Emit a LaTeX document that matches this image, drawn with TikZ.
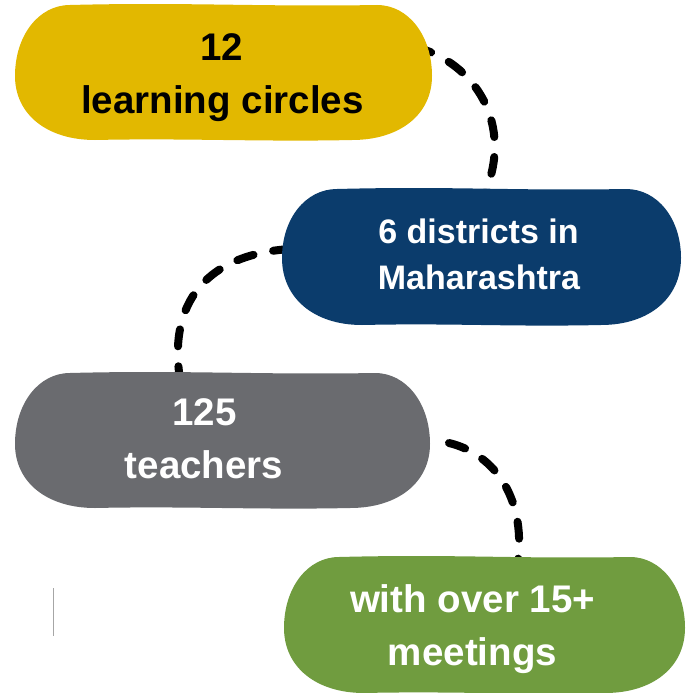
\documentclass[tikz,border=0pt]{standalone}
\usepackage{fontspec}
\setmainfont{Liberation Sans}
\definecolor{blobyellow}{HTML}{E2B800}
\definecolor{blobblue}{HTML}{0B3C6C}
\definecolor{blobgray}{HTML}{6A6B6F}
\definecolor{blobgreen}{HTML}{709C3F}
% Soft pill-shaped blob: fill, left, top, right, bottom, y of the side extremes.
% Upper corners are tighter (55pt wide) than the lower ones (80pt wide).
\newcommand{\pillblob}[6]{%
  \fill[#1] (#2,#6)
    .. controls (#2,{#6-0.57*(#6-#3)}) and ({#2+23.6},#3) .. ({#2+55},#3)
    .. controls ({#2+170},{#3-3}) and ({#4-170},{#3+2}) .. ({#4-55},#3)
    .. controls ({#4-23.6},#3) and (#4,{#6-0.57*(#6-#3)}) .. (#4,#6)
    .. controls (#4,{#6+0.6*(#5-#6)}) and ({#4-32},#5) .. ({#4-80},#5)
    .. controls ({#4-170},{#5+2}) and ({#2+170},{#5-2}) .. ({#2+80},#5)
    .. controls ({#2+32},#5) and (#2,{#6+0.6*(#5-#6)}) .. (#2,#6) -- cycle;}
\tikzset{
  link/.style={line width=8pt, line cap=round, dash pattern=on 17pt off 20pt, black},
  bigtxt/.style={anchor=base, inner sep=0pt, font=\bfseries\fontsize{38.5}{46}\selectfont},
  midtxt/.style={anchor=base, inner sep=0pt, font=\bfseries\fontsize{34}{40}\selectfont},
}
\begin{document}
\begin{tikzpicture}[x=1pt,y=-1pt]
\useasboundingbox (0,0) rectangle (692,693);

% connector end points (tucked under the blobs)
\coordinate (c1s) at (415,47);
\coordinate (c1e) at (484,195);
\coordinate (c2s) at (290,249);
\coordinate (c2e) at (182,390);
\coordinate (c3s) at (449,443);
\coordinate (c3e) at (517,568);

% dashed connectors
\draw[link] (c1s) .. controls (475,62) and (515,125) .. (c1e);
\draw[link] (c2s) .. controls (200,255) and (165,310) .. (c2e);
\draw[link] (c3s) .. controls (495,454) and (528,500) .. (c3e);

% blobs
\pillblob{blobyellow}{15}{5}{432}{140}{76}
\pillblob{blobblue}{282}{189}{681}{325}{258}
\pillblob{blobgray}{15}{373}{430}{508}{444}
\pillblob{blobgreen}{284}{557}{685}{693}{628}

% labels
\node[bigtxt, text=black] (y1) at (222,61) {12};
\node[bigtxt, text=black] (y2) at (222.5,113) {learning circles};
\node[midtxt, text=white] (b1) at (478.5,243) {6 districts in};
\node[midtxt, text=white] (b2) at (479,289) {Maharashtra};
\node[bigtxt, text=white] (g1) at (204.5,425) {125};
\node[bigtxt, text=white] (g2) at (204,478) {teachers};
\node[bigtxt, text=white] (n1) at (472.5,612) {with over 15+};
\node[bigtxt, text=white] (n2) at (472.5,665) {meetings};

% faint stray stroke at lower left
\draw[gray!70, line width=0.9pt] (53,588) -- (53,636);
\end{tikzpicture}
\end{document}
